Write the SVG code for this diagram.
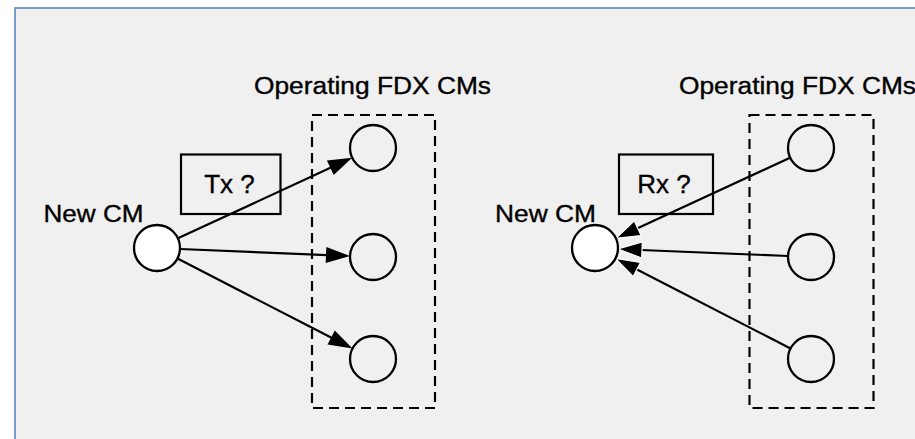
<svg xmlns="http://www.w3.org/2000/svg" width="915" height="439" viewBox="0 0 915 439">
<style>
.lbl{font-family:"Liberation Sans",Arial,sans-serif;fill:#000;stroke:#000;stroke-width:0.35}
.cm{fill:#fff;stroke:#000;stroke-width:2.3}
.op{fill:none;stroke:#000;stroke-width:2.3}
.grp{fill:none;stroke:#000;stroke-width:2.2;stroke-dasharray:10 6}
.box{fill:none;stroke:#000;stroke-width:2.2}
.ln{stroke:#000;stroke-width:2.2;fill:none}
.ah{fill:#000}
.ahw{fill:#000;stroke:#fff;stroke-width:1.2;stroke-linejoin:miter}
</style>
<rect x="0" y="0" width="915" height="439" fill="#fff"/>
<rect id="frame" x="15" y="8" width="920" height="450" fill="#f0f0f0" stroke="#4f81bd" stroke-width="1.5"/>

<g id="tx-group">
<rect class="grp" x="312" y="115" width="123" height="293"/>
<text class="lbl" x="254" y="93.5" font-size="23" textLength="237" lengthAdjust="spacingAndGlyphs">Operating FDX CMs</text>
</g>
<g id="rx-group">
<rect class="grp" x="749.5" y="115" width="124" height="293"/>
<text class="lbl" x="679" y="93.5" font-size="23" textLength="237" lengthAdjust="spacingAndGlyphs">Operating FDX CMs</text>
</g>

<g id="tx-label">
<rect class="box" x="181" y="154.5" width="99.5" height="59.5"/>
<text class="lbl" x="229.5" y="193" font-size="26" text-anchor="middle">Tx ?</text>
</g>
<g id="rx-label">
<rect class="box" x="619" y="154.5" width="94" height="59.5"/>
<text class="lbl" x="664" y="193" font-size="26" text-anchor="middle">Rx ?</text>
</g>

<g id="connectors">
<line class="ln" x1="177.9" y1="238.3" x2="331" y2="167.5"/>
<polygon class="ah" points="352.1,157.7 333.7,175.1 326.9,160.5"/>
<line class="ln" x1="180" y1="249" x2="327" y2="255.1"/>
<polygon class="ah" points="350,256 325.7,263 326.3,247"/>
<line class="ln" x1="177.5" y1="258.5" x2="332" y2="338"/>
<polygon class="ah" points="352.5,348.5 327.5,344.6 334.8,330.4"/>

<line class="ln" x1="790.1" y1="157.7" x2="637" y2="228.5"/>
<line class="ln" x1="788" y1="256" x2="641" y2="250"/>
<line class="ln" x1="790.5" y1="348.5" x2="636" y2="269"/>
<polygon class="ahw" points="615.9,238.3 641.1,235.5 634.3,220.9"/>
<polygon class="ahw" points="618,249 642.3,242 641.7,258"/>
<polygon class="ahw" points="615.5,258.5 640.5,262.4 633.2,276.6"/>
</g>

<g id="tx-new-cm">
<circle class="cm" cx="157" cy="248" r="23"/>
<text class="lbl" x="43.5" y="221.5" font-size="24" textLength="100" lengthAdjust="spacingAndGlyphs">New CM</text>
</g>
<g id="tx-cm1"><circle class="op" cx="373" cy="148" r="23"/></g>
<g id="tx-cm2"><circle class="op" cx="373" cy="257" r="23"/></g>
<g id="tx-cm3"><circle class="op" cx="373" cy="359" r="23"/></g>

<g id="rx-new-cm">
<circle class="cm" cx="595" cy="248" r="23"/>
<text class="lbl" x="495" y="221.5" font-size="24" textLength="101" lengthAdjust="spacingAndGlyphs">New CM</text>
</g>
<g id="rx-cm1"><circle class="op" cx="811" cy="148" r="23"/></g>
<g id="rx-cm2"><circle class="op" cx="811" cy="257" r="23"/></g>
<g id="rx-cm3"><circle class="op" cx="811" cy="359" r="23"/></g>
</svg>
